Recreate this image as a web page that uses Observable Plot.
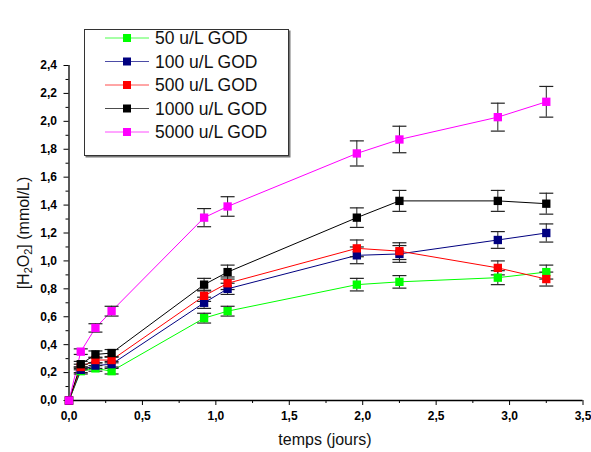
<!DOCTYPE html>
<html><head><meta charset="utf-8">
<script src="https://cdn.jsdelivr.net/npm/d3@7"></script>
<script src="https://cdn.jsdelivr.net/npm/@observablehq/plot@0.6"></script>
<style>
body{margin:0;background:#fff;}
#wrap{position:relative;width:591px;height:452px;font-family:"Liberation Sans",Arial,sans-serif;}
#wrap svg{overflow:visible;}
.lab{position:absolute;font-size:16px;color:#111;white-space:nowrap;line-height:1;}
#xlab{left:325px;top:440px;transform:translate(-50%,-50%);}
#ylab{left:24px;top:233px;transform:translate(-50%,-50%) rotate(-90deg);}
#ylab sub{font-size:11px;vertical-align:-3px;line-height:0;}
</style></head><body><div id="wrap"></div>
<script>
const times = [0, 0.08, 0.18, 0.29, 0.92, 1.08, 1.96, 2.25, 2.92, 3.25];
const series = ["50 u/L GOD", "100 u/L GOD", "500 u/L GOD", "1000 u/L GOD", "5000 u/L GOD"];
const colors = ["#00ff00", "#000080", "#ff0000", "#000000", "#ff00ff"];
const v50   = [0, 0.21, 0.23, 0.21, 0.59, 0.64, 0.83, 0.85, 0.88, 0.92];
const v100  = [0, 0.22, 0.25, 0.26, 0.70, 0.80, 1.04, 1.05, 1.15, 1.20];
const v500  = [0, 0.24, 0.29, 0.29, 0.75, 0.84, 1.09, 1.07, 0.95, 0.87];
const v1000 = [0, 0.26, 0.33, 0.34, 0.83, 0.92, 1.31, 1.43, 1.43, 1.41];
const v5000 = [0, 0.35, 0.52, 0.64, 1.31, 1.39, 1.77, 1.87, 2.03, 2.14];
const e50   = [0, 0.02, 0.02, 0.02, 0.035, 0.035, 0.045, 0.045, 0.05, 0.05];
const e100  = [0, 0.02, 0.02, 0.02, 0.04, 0.04, 0.06, 0.06, 0.06, 0.065];
const e500  = [0, 0.02, 0.02, 0.02, 0.04, 0.045, 0.06, 0.06, 0.05, 0.05];
const e1000 = [0, 0.02, 0.025, 0.025, 0.045, 0.05, 0.07, 0.075, 0.075, 0.075];
const e5000 = [0, 0.02, 0.03, 0.035, 0.065, 0.07, 0.09, 0.095, 0.10, 0.11];
const xTicks = [0, 0.5, 1, 1.5, 2, 2.5, 3, 3.5];
const xMinor = [0.25, 0.75, 1.25, 1.75, 2.25, 2.75, 3.25];
const yTicks = [0, 0.2, 0.4, 0.6, 0.8, 1.0, 1.2, 1.4, 1.6, 1.8, 2.0, 2.2, 2.4];
const yMinor = [0.1, 0.3, 0.5, 0.7, 0.9, 1.1, 1.3, 1.5, 1.7, 1.9, 2.1, 2.3];

const values = [v50, v100, v500, v1000, v5000];
const errors = [e50, e100, e500, e1000, e5000];
const data = [];
series.forEach((s, i) => times.forEach((t, j) => data.push({s, t, v: values[i][j], lo: values[i][j] - errors[i][j], hi: values[i][j] + errors[i][j], e: errors[i][j]})));
const errData = data.filter(d => d.e > 0);
const fmt = d => d3.format(".1f")(d).replace(".", ",");
const cap = {draw(ctx) { ctx.moveTo(-7, 0); ctx.lineTo(7, 0); }};

const plot = Plot.plot({
  width: 591, height: 452,
  marginLeft: 68.5, marginRight: 8.5, marginTop: 65, marginBottom: 52,
  style: {fontFamily: "'Liberation Sans', Arial, sans-serif", fontSize: "12px", fontWeight: "bold", background: "#fff", color: "#000"},
  x: {domain: [0, 3.5], axis: null},
  y: {domain: [0, 2.4], axis: null},
  color: {domain: series, range: colors},
  marks: [
    Plot.axisX({ticks: xMinor, tickSize: 3, tickFormat: () => "", label: null}),
    Plot.axisX({ticks: xTicks, tickSize: 5, tickPadding: 6, tickFormat: fmt, label: null}),
    Plot.axisY({ticks: yMinor, tickSize: 3, tickFormat: () => "", label: null}),
    Plot.axisY({ticks: yTicks, tickSize: 5, tickPadding: 7, tickFormat: fmt, label: null}),
    Plot.ruleY([0], {stroke: "#000", strokeWidth: 1.3}),
    Plot.ruleX([0], {stroke: "#000", strokeWidth: 1.3}),
    Plot.line(data, {x: "t", y: "v", z: "s", stroke: "s", strokeWidth: 1}),
    Plot.ruleX(errData, {x: "t", y1: "lo", y2: "hi", stroke: "#222", strokeWidth: 1}),
    Plot.dot(errData, {x: "t", y: "lo", symbol: cap, stroke: "#222", strokeWidth: 1.2}),
    Plot.dot(errData, {x: "t", y: "hi", symbol: cap, stroke: "#222", strokeWidth: 1.2}),
    Plot.dot(data, {x: "t", y: "v", fill: "s", symbol: "square", r: 4.7})
  ]
});
d3.select(plot).selectAll("text").style("font-size", "12px").style("font-weight", "bold");
const wrap = document.getElementById("wrap");
wrap.appendChild(plot);

// axis labels
const xl = document.createElement("div"); xl.className = "lab"; xl.id = "xlab"; xl.textContent = "temps (jours)"; wrap.appendChild(xl);
const yl = document.createElement("div"); yl.className = "lab"; yl.id = "ylab"; yl.innerHTML = "[H<sub>2</sub>O<sub>2</sub>] (mmol/L)"; wrap.appendChild(yl);

// legend box
const lg = d3.select(wrap).append("svg")
  .attr("width", 210).attr("height", 132)
  .style("position", "absolute").style("left", "83px").style("top", "28px");
lg.append("rect").attr("x", 2.5).attr("y", 2.5).attr("width", 205).attr("height", 127).attr("fill", "#777");
lg.append("rect").attr("x", 1.5).attr("y", 1.5).attr("width", 204).attr("height", 126).attr("fill", "#fff").attr("stroke", "#333");
series.forEach((s, i) => {
  const y = 10 + i * 23.5;
  lg.append("line").attr("x1", 22).attr("x2", 66).attr("y1", y).attr("y2", y).attr("stroke", colors[i]).attr("stroke-width", 1).attr("stroke-opacity", 0.7);
  lg.append("rect").attr("x", 40).attr("y", y - 4).attr("width", 8).attr("height", 8).attr("fill", colors[i]);
  lg.append("text").attr("x", 72).attr("y", y).attr("dy", "0.35em").attr("font-size", 17.5).attr("fill", "#111")
    .attr("font-family", "'Liberation Sans', Arial, sans-serif").text(s);
});
</script></body></html>
